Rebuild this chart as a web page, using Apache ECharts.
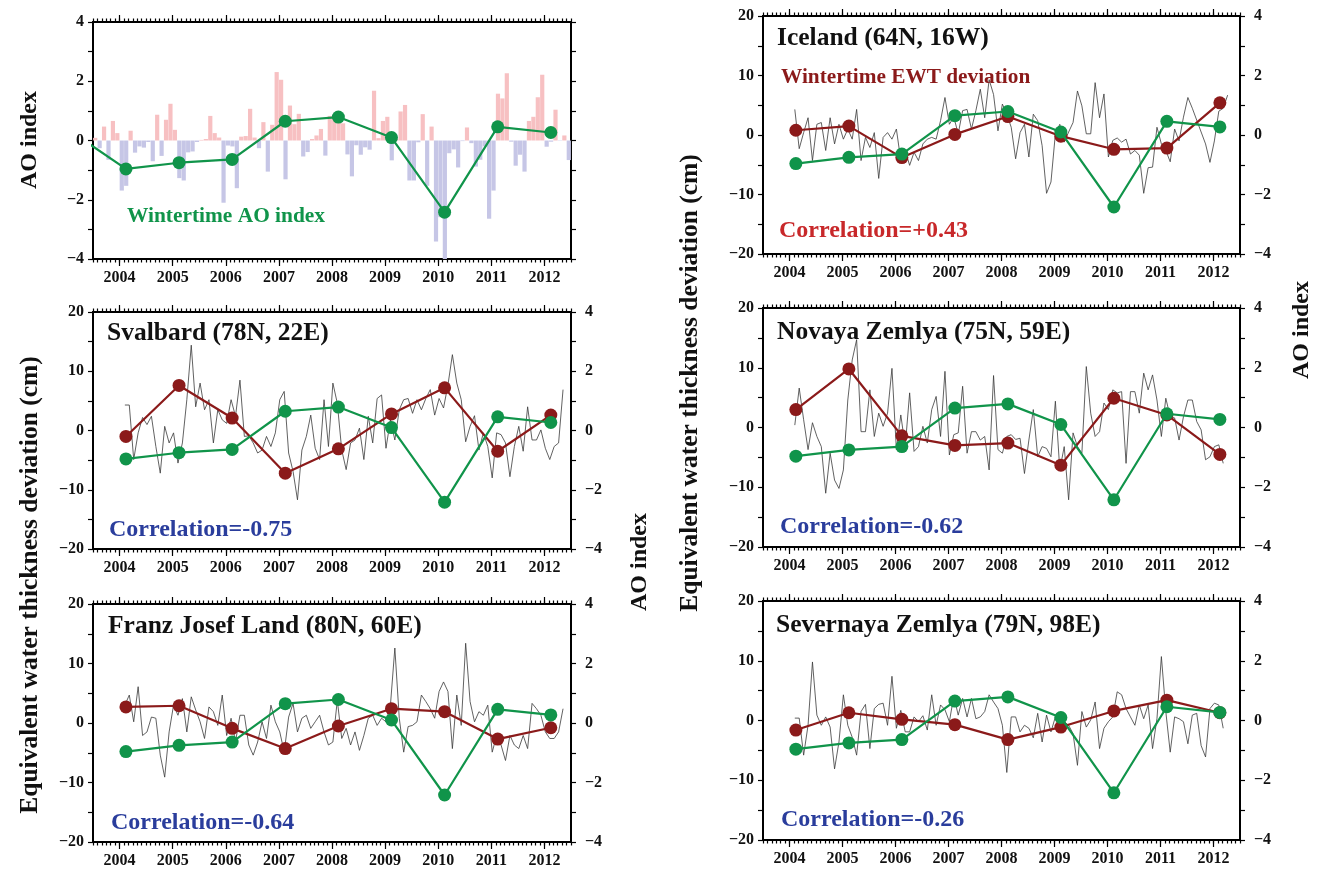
<!DOCTYPE html>
<html>
<head>
<meta charset="utf-8">
<script src="https://cdn.jsdelivr.net/npm/echarts@6/dist/echarts.min.js"></script>
<style>
  html, body { margin: 0; padding: 0; background: #ffffff; }
  #chart { width: 1330px; height: 876px; }
</style>
</head>
<body>
<div id="chart"></div>
<script>
// ---------- data ----------
const years = [2004, 2005, 2006, 2007, 2008, 2009, 2010, 2011, 2012];
const winterOffset = 0.12;          // winter means are plotted at mid-February
const xMin = 2003.5, xMax = 2012.5;

// Wintertime (DJF) AO index
const aoWinter = [-0.96, -0.75, -0.64, 0.65, 0.79, 0.10, -2.42, 0.46, 0.27];
const aoWinterPrev = 0.26;          // winter 2003, only its segment into the frame is visible

// Monthly AO index, Jul 2003 .. Jun 2012
const aoMonthlyStart = 2003.5;
const aoMonthly = [
  0.09, -0.26, 0.47, -0.65, 0.66, 0.25,
  -1.69, -1.53, 0.33, -0.41, -0.20, -0.24, -0.05, -0.70, 0.87, -0.52, 0.70, 1.24,
  0.36, -1.27, -1.35, -0.40, -0.37, -0.05, 0.02, 0.05, 0.83, 0.25, 0.10, -2.10,
  -0.17, -0.20, -1.61, 0.13, 0.15, 1.07, 0.10, -0.26, 0.62, -1.05, 0.53, 2.31,
  2.05, -1.31, 1.18, 0.55, 0.90, -0.54, -0.39, 0.05, 0.17, 0.39, -0.51, 0.83,
  0.82, 0.75, 0.58, -0.47, -1.21, -0.16, -0.48, -0.23, -0.31, 1.68, 0.08, 0.66,
  0.80, -0.67, 0.05, 0.98, 1.20, -1.35, -1.35, -0.06, 0.89, -1.53, 0.47, -3.41,
  -2.59, -4.27, -0.43, -0.30, -0.91, -0.02, 0.44, -0.09, -0.88, -0.65, -0.20, -2.64,
  -1.69, 1.58, 1.42, 2.27, -0.04, -0.85, -0.48, -1.05, 0.66, 0.80, 1.46, 2.22,
  -0.21, -0.04, 1.04, -0.01, 0.17, -0.66
];

// Monthly equivalent water thickness deviation (cm), from early 2004
const ewtStart = 2004.1;
const ewtSvalbard = [
  4.3, 4.3, -4.9, -0.4, 2.2, 1.0, 2.4, -2.7, -7.2, 0.7,
  -2.1, -0.4, -5.5, -2.1, 5.2, 14.4, 4.0, 8.0, 3.5, 5.2,
  -2.1, 3.5, 1.8, 1.2, 5.2, 2.4, 8.5, -1.0, -0.9, -2.1,
  -3.8, -3.3, -1.0, -2.7, -0.4, 5.2, 6.6, -3.8, -6.9, -11.7,
  -3.3, -1.0, 2.6, -3.0, -4.9, 5.2, -2.7, 8.0, 4.6, -3.3,
  -6.6, -2.1, -1.6, 0.4, -4.9, 2.4, -2.1, 5.4, 6.0, -3.0,
  1.8, -1.6, 3.5, 5.2, 5.4, 2.9, 5.2, 3.5, 5.4,
  6.9, 2.6, 5.4, 3.8, 7.7, 12.8, 8.0, 5.2, -1.9, 0.7,
  2.5, -3.3, -0.4, -2.7, -8.0, -0.4, -0.7, -2.1, -7.8, -2.7,
  0.7, -3.5, 4.0, -1.6, -1.6, 0.1, -3.0, -4.9, -2.7, -2.1,
  6.9
];
const ewtFranzJosef = [
  3.0, 4.7, 0.2, 6.1, -2.1, -1.5, 1.0, 0.8, -5.4,
  -9.1, -1.5, 3.0, 1.3, 4.1, -1.5, 4.4, 2.2, 0.2, -2.6,
  2.7, 1.9, -0.4, 4.7, -2.1, 0.8, -3.2, 1.3, 1.3, -3.7,
  -5.4, -3.2, 0.2, -2.6, 3.0, 0.2, -1.5, -4.9, 1.0,
  3.3, -1.5, 0.8, 1.3, -0.9, 0.2, 1.3, -1.5, -3.7, -3.2,
  3.8, -2.6, -0.9, -3.7, -1.5, -4.6, -2.1, 0.8, 1.3, -0.4,
  0.8, 0.2, 3.0, 12.6, 0.8, -4.9, -0.6, -0.4, 0.2, 4.7,
  3.6, 2.4, 0.8, 5.3, 6.9, 5.3, -4.3, 4.7, -0.4, 13.4,
  3.6, 0.2, 1.9, 1.3, 3.0, -4.9, -2.1, -3.7, -6.3, -2.1,
  -3.7, -4.3, -2.1, -4.3, 3.3, 2.4, 1.3, -1.5, -2.6, -2.6,
  -1.5, 2.4
];
const ewtIceland = [
  4.3, -2.3, 0.4, 2.9, -4.3, 1.8, 2.1, -2.6, 2.9, -1.5,
  1.8, -0.7, 1.0, -0.7, 4.3, -4.3, -0.4, -2.1, 0.4, -7.3,
  -0.4, 0.4, -0.7, 1.0, -4.3, -2.6, -5.1, -2.9, -4.3, -1.5,
  -0.7, -0.4, -0.7, 2.4, 6.3, 1.8, 3.0,
  0.2, 4.1, 4.3, 1.0, 4.1, 7.7, 2.9, 9.3, 6.8, 0.7,
  5.2, 3.5, 1.3, -4.0, 0.4, 1.8, -3.7, 3.5, 2.4, -1.8,
  -9.8, -7.9, 0.2, 1.8, -1.2, 0.5, 2.1, 7.4, 4.9, 0.2,
  0.2, 8.8, 2.9, 6.9, -3.7, -0.9, -0.5, -1.2, -0.7, -3.2,
  -2.6, -3.4, -9.8, -5.5, -5.4, 1.3, -1.5,
  -2.6, -4.5, 1.0, -1.0, 3.0, 6.3, 4.5, 2.5, 0.5, -1.5,
  -4.6, -1.0, 4.0, 4.5, 6.7
];
const ewtNovaya = [
  0.4, 6.6, 1.3, -3.7, 0.8, -1.5, -3.2, -11.0, -4.3, -8.8,
  -10.2, -7.1, 4.6, 11.3, 14.7, -0.7, -0.7, 6.3, -1.5, 2.4,
  0.2, 2.4, 9.9, -3.7, 2.1, -3.2, 5.8, -4.0, -3.2, 0.2,
  -2.6, 3.0, 5.2, -1.5, 9.4, -4.6, -1.2, -0.9, 6.9, -4.3,
  -0.7, -0.7, -2.1, -1.5, -7.1, 8.7, -3.7, -4.3, -1.5, -1.2,
  -2.0, -1.8, -7.7, -2.1, 3.0, -4.9, -3.2, -3.5, -4.9, 4.4,
  -7.1, -3.2, -12.1, -0.9, -3.2, -4.3, 10.2, 2.4, -1.5, -0.7,
  4.1, 3.0, 6.3, 5.8, 6.0, -6.0, 6.0, 6.0, 2.4, 9.1,
  6.3, 8.8, 4.6, -1.5, 4.9, 1.8, 1.6, -2.1, 1.8, 4.6,
  4.6, 1.0, -0.4, -5.4, -4.9, -3.2, -2.9, -6.0
];
const ewtSevernaya = [
  0.4, 0.4, -5.8, -0.8, 9.8, 0.9, -0.8, 0.6, -1.1, -8.1,
  -3.6, 4.3, -0.8, -2.8, -5.8, 1.5, 2.7, -4.7, 2.0, 2.7,
  2.9, -0.8, 7.4, -1.3, 1.7, -1.9, -1.9, 0.6, -0.2, 0.8,
  -1.6, 4.3, -0.8, 2.6, 1.8, -0.2, 4.1, 0.9, 3.7, 0.6,
  3.7, 0.3, 0.6, 1.5, 4.3, 3.1, 2.0, -0.8, -8.7, 0.6,
  0.6, -1.9, -0.8, -1.3, -2.9, 1.2, -3.6, 0.9, -1.9, 0.6,
  -1.3, -0.2, -0.8, -2.2, -7.5, 1.5, -1.1, 0.1, 3.1, -4.7,
  -1.3, -0.2, 0.6, 4.8, 4.3, 2.0, 0.6, -0.8, 2.6, 0.3,
  2.6, -4.7, 0.3, 10.7, 1.5, -5.3, 0.6, 0.3, -0.2, -3.9,
  0.9, 1.2, -4.2, -6.1, 2.0, 2.9, 2.6, -1.3
];

// Wintertime (DJF) EWT deviation (cm)
const winterSvalbard   = [-1.0, 7.6, 2.1, -7.2, -3.1, 2.8, 7.2, -3.5, 2.6];
const winterFranzJosef = [2.7, 2.9, -0.9, -4.3, -0.5, 2.4, 1.9, -2.7, -0.8];
const winterIceland    = [0.8, 1.5, -3.8, 0.1, 3.1, -0.2, -2.4, -2.2, 5.4];
const winterNovaya     = [3.0, 9.8, -1.4, -3.0, -2.6, -6.3, 4.9, 2.1, -4.5];
const winterSevernaya  = [-1.6, 1.3, 0.2, -0.7, -3.2, -1.1, 1.6, 3.4, 1.3];

const titles = ['Svalbard (78N, 22E)', 'Franz Josef Land (80N, 60E)', 'Iceland (64N, 16W)',
                'Novaya Zemlya (75N, 59E)', 'Severnaya Zemlya (79N, 98E)'];
const correlations = ['Correlation=-0.75', 'Correlation=-0.64', 'Correlation=+0.43',
                      'Correlation=-0.62', 'Correlation=-0.26'];

// ---------- styling ----------
const FONT = "'Liberation Serif', 'DejaVu Serif', serif";
const GREEN = '#10944a';
const DARKRED = '#8b1a1a';
const CORR_BLUE = '#2a3d9c';
const CORR_RED = '#c8282a';
const BAR_POS = '#f7c0c2';
const BAR_NEG = '#c6c6e6';

// panel frames: [left, top, width, height]
const boxes = [
  [93, 22, 478, 237],    // AO index
  [93, 312, 478, 237],   // Svalbard
  [93, 604, 478, 238],   // Franz Josef Land
  [763, 16, 477, 238],   // Iceland
  [763, 308, 477, 239],  // Novaya Zemlya
  [763, 601, 477, 239]   // Severnaya Zemlya
];

const monthTicks = [];
for (let m = 0; m <= 108; m++) monthTicks.push(+(xMin + m / 12).toFixed(4));

const minus = v => (v < 0 ? '\u2212' + Math.abs(v) : String(v));
const tickLine = { color: '#000', width: 1.2 };
const labelStyle = { fontFamily: FONT, fontWeight: 'bold', fontSize: 16, color: '#111' };

const grid = boxes.map(b => ({
  left: b[0], top: b[1], width: b[2], height: b[3],
  show: true, borderColor: '#000', borderWidth: 2, backgroundColor: 'transparent'
}));

const xAxis = [];
const yAxis = [];
boxes.forEach((b, k) => {
  const base = { gridIndex: k, type: 'value', min: xMin, max: xMax,
                 axisLine: { show: false, onZero: false }, splitLine: { show: false } };
  xAxis.push(Object.assign({}, base, {
    position: 'bottom',
    axisTick: { show: true, customValues: years, length: 7, lineStyle: tickLine },
    axisLabel: Object.assign({ show: true, customValues: years, margin: 11,
                               formatter: v => String(v) }, labelStyle)
  }));
  xAxis.push(Object.assign({}, base, {
    position: 'bottom',
    axisTick: { show: true, customValues: monthTicks, length: 3.5, lineStyle: tickLine },
    axisLabel: { show: false }
  }));
  xAxis.push(Object.assign({}, base, {
    position: 'top',
    axisTick: { show: true, customValues: years, length: 7, lineStyle: tickLine },
    axisLabel: { show: false }
  }));
  xAxis.push(Object.assign({}, base, {
    position: 'top',
    axisTick: { show: true, customValues: monthTicks, length: 3.5, lineStyle: tickLine },
    axisLabel: { show: false }
  }));

  const isAO = k === 0;
  yAxis.push({
    gridIndex: k, type: 'value', position: 'left',
    min: isAO ? -4 : -20, max: isAO ? 4 : 20, interval: isAO ? 2 : 10,
    axisLine: { show: false, onZero: false }, splitLine: { show: false },
    axisTick: { show: true, length: 5, lineStyle: tickLine },
    minorTick: { show: true, splitNumber: 2, length: 5, lineStyle: tickLine },
    axisLabel: Object.assign({ formatter: minus, margin: 9 }, labelStyle)
  });
  yAxis.push({
    gridIndex: k, type: 'value', position: 'right',
    min: -4, max: 4, interval: 2,
    axisLine: { show: false, onZero: false }, splitLine: { show: false },
    axisTick: { show: true, length: 5, lineStyle: tickLine },
    minorTick: { show: true, splitNumber: 2, length: 5, lineStyle: tickLine },
    axisLabel: Object.assign({ show: !isAO, formatter: minus, margin: 14 }, labelStyle)
  });
});

const monthly = (start, vals) => vals.map((v, i) => [start + i / 12, v]);
const winter = vals => years.map((y, i) => [y + winterOffset, vals[i]]);

const series = [];

// AO panel: monthly bars and the wintertime AO line
series.push({
  type: 'bar', xAxisIndex: 0, yAxisIndex: 0, barWidth: 4.2, silent: true,
  data: monthly(aoMonthlyStart + 1 / 24, aoMonthly).map(p => ({
    value: p, itemStyle: { color: p[1] >= 0 ? BAR_POS : BAR_NEG }
  })),
  clip: true, z: 1
});
series.push({
  type: 'line', xAxisIndex: 0, yAxisIndex: 0, clip: true,
  data: [[2003 + winterOffset, aoWinterPrev]].concat(winter(aoWinter)),
  symbol: 'circle', symbolSize: 13, showAllSymbol: true,
  lineStyle: { color: GREEN, width: 2.2 }, itemStyle: { color: GREEN }, z: 5
});

// EWT panels
const ewtPanels = [
  [1, ewtSvalbard, winterSvalbard],
  [2, ewtFranzJosef, winterFranzJosef],
  [3, ewtIceland, winterIceland],
  [4, ewtNovaya, winterNovaya],
  [5, ewtSevernaya, winterSevernaya]
];
ewtPanels.forEach(([k, monthlyVals, winterVals]) => {
  series.push({
    type: 'line', xAxisIndex: 4 * k, yAxisIndex: 2 * k, clip: true,
    data: monthly(ewtStart, monthlyVals), symbol: 'none',
    lineStyle: { color: '#3a3a3a', width: 0.8 }, z: 2
  });
  series.push({
    type: 'line', xAxisIndex: 4 * k, yAxisIndex: 2 * k,
    data: winter(winterVals), symbol: 'circle', symbolSize: 13,
    lineStyle: { color: DARKRED, width: 2.2 }, itemStyle: { color: DARKRED }, z: 4
  });
  series.push({
    type: 'line', xAxisIndex: 4 * k, yAxisIndex: 2 * k + 1,
    data: winter(aoWinter), symbol: 'circle', symbolSize: 13,
    lineStyle: { color: GREEN, width: 2.2 }, itemStyle: { color: GREEN }, z: 5
  });
});

// ---------- text ----------
function txt(x, y, text, size, color, rotate, align) {
  return {
    type: 'text', x: x, y: y, rotation: rotate ? Math.PI / 2 : 0, z: 10, silent: true,
    style: {
      text: text, fill: color, font: 'bold ' + size + 'px ' + FONT,
      textAlign: align || 'left', textVerticalAlign: 'middle',
      align: align || 'left', verticalAlign: 'middle'
    }
  };
}
const graphics = [
  txt(30, 140, 'AO index', 24, '#111', true, 'center'),
  txt(30, 585, 'Equivalent water thickness deviation (cm)', 25.5, '#111', true, 'center'),
  txt(640, 562, 'AO index', 24, '#111', true, 'center'),
  txt(690, 383, 'Equivalent water thickness deviation (cm)', 25.5, '#111', true, 'center'),
  txt(1302, 330, 'AO index', 24, '#111', true, 'center'),
  txt(127, 216, 'Wintertime AO index', 21.4, GREEN),
  txt(781, 77, 'Wintertime EWT deviation', 21.3, DARKRED)
];
const titlePos = [[107, 333], [108, 626], [777, 38], [777, 332], [776, 625]];
const corrPos = [[109, 530], [111, 823], [779, 231], [780, 527], [781, 820]];
titles.forEach((t, i) => graphics.push(txt(titlePos[i][0], titlePos[i][1], t, 25.5, '#111')));
correlations.forEach((t, i) => graphics.push(
  txt(corrPos[i][0], corrPos[i][1], t, 24, i === 2 ? CORR_RED : CORR_BLUE)));

const chart = echarts.init(document.getElementById('chart'), null, { renderer: 'canvas' });
chart.setOption({
  animation: false,
  backgroundColor: '#ffffff',
  grid: grid,
  xAxis: xAxis,
  yAxis: yAxis,
  series: series,
  graphic: graphics
});
</script>
</body>
</html>
